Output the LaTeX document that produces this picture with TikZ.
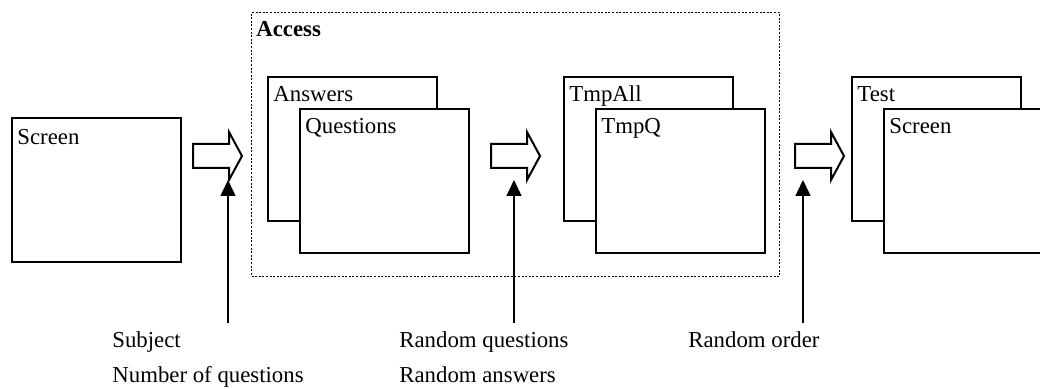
\documentclass[tikz,border=0pt]{standalone}
\usepackage{fontspec}
\setmainfont{Liberation Serif}
\usetikzlibrary{arrows.meta,positioning}
\tikzset{
  tablebox/.style={draw,line width=1pt,fill=white,minimum width=84.5pt,minimum height=72pt,anchor=north west,inner sep=0pt},
  title/.style={anchor=base west,inner sep=0pt},
  param/.style={-{Triangle[length=8pt,width=7.5pt]},line width=0.75pt},
  fatarrow/.pic={\draw[line width=1pt] (0,-12) -- (36,-12) -- (36,-24) -- (49,0) -- (36,24) -- (36,12) -- (0,12) -- cycle;}
}
\begin{document}
\begin{tikzpicture}[x=0.5pt,y=-0.5pt,font=\fontsize{11.4pt}{13.7pt}\selectfont]
  \useasboundingbox (0,0) rectangle (1040,389);
  \clip (0,0) rectangle (1040,389);
  % database group
  \node[draw,dash pattern=on 1pt off 0.8pt,line width=0.5pt,minimum width=264pt,minimum height=132pt,anchor=north west,inner sep=0pt] (access) at (251,12) {};
  \node[title] at ([shift={(5,25)}]access.north west) {\textbf{Access}};
  % tables
  \node[tablebox] (scr) at (11,117) {};
  \node[tablebox] (ans) at (267,76) {};
  \node[tablebox] (que) at (299,108) {};
  \node[tablebox] (all) at (563,76) {};
  \node[tablebox] (tmpq) at (595,108) {};
  \node[tablebox] (test) at (851,76) {};
  \node[tablebox] (scr2) at (883,108) {};
  \node[title] at ([shift={(6,28)}]scr.north west) {Screen};
  \node[title] at ([shift={(6,26)}]ans.north west) {Answers};
  \node[title] at ([shift={(6,26)}]que.north west) {Questions};
  \node[title] at ([shift={(6,26)}]all.north west) {TmpAll};
  \node[title] at ([shift={(6,26)}]tmpq.north west) {TmpQ};
  \node[title] at ([shift={(6,26)}]test.north west) {Test};
  \node[title] at ([shift={(6,26)}]scr2.north west) {Screen};
  % flow
  \pic at (193,156) {fatarrow};
  \pic at (491,156) {fatarrow};
  \pic at (795,156) {fatarrow};
  % parameters
  \node[title] (subj) at (112,348) {Subject};
  \node[title] (num) at (112,383) {Number of questions};
  \node[title] (rq) at (399,348) {Random questions};
  \node[title] (ra) at (399,383) {Random answers};
  \node[title] (ro) at (688,348) {Random order};
  \coordinate (p1) at (228,323);
  \coordinate (t1) at (228,180);
  \coordinate (p2) at (514,323);
  \coordinate (t2) at (514,180);
  \coordinate (p3) at (803,323);
  \coordinate (t3) at (803,180);
  \draw[param] (p1) -- (t1);
  \draw[param] (p2) -- (t2);
  \draw[param] (p3) -- (t3);
\end{tikzpicture}
\end{document}
